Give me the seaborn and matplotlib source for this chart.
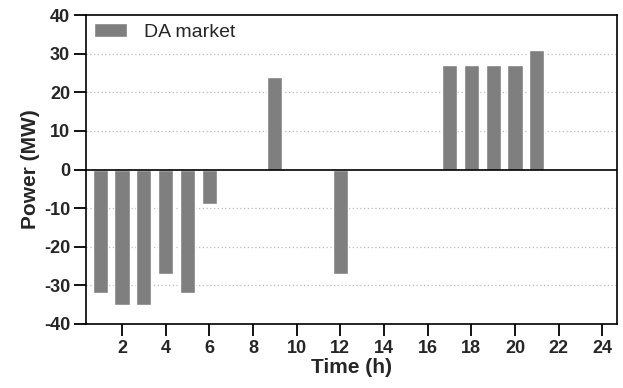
import numpy as np
import pandas as pd
import matplotlib.pyplot as plt
import seaborn as sns

sns.set_style("white")
plt.rcParams["font.family"] = ["Liberation Sans", "DejaVu Sans"]
plt.rcParams["axes.unicode_minus"] = False

hours = list(range(1, 25))
power = [-32, -35, -35, -27, -32, -9, 0, 0, 24, 0, 0, -27,
         0, 0, 0, 0, 27, 27, 27, 27, 31, 0, 0, 0]
df = pd.DataFrame({"hour": hours, "power": power})

fig = plt.figure(figsize=(6.23, 3.88), dpi=100)
ax = fig.add_axes([0.138, 0.165, 0.852, 0.796])

sns.barplot(data=df, x="hour", y="power", native_scale=True, width=0.7,
            color="#7f7f7f", saturation=1, label="DA market", ax=ax, zorder=3)

ax.set_xlim(0.35, 24.66)
ax.set_ylim(-40, 40)
ax.set_xticks(range(2, 25, 2))
ax.set_yticks(range(-40, 41, 10))
ax.axhline(0, color="black", lw=1.2, zorder=4)
for y in [-30, -20, -10, 10, 20, 30]:
    ax.axhline(y, color="#bbbbbb", lw=0.9, ls=(0, (1, 2)), zorder=1)

for s in ax.spines.values():
    s.set_color("black")
    s.set_linewidth(1.2)
ax.tick_params(axis="both", direction="out", length=8.5, width=1.3,
               labelsize=13, color="black", bottom=True, left=True, pad=3)
for lbl in ax.get_xticklabels() + ax.get_yticklabels():
    lbl.set_fontweight("bold")

ax.set_xlabel("Time (h)", fontsize=15, fontweight="bold", labelpad=1)
ax.set_ylabel("Power (MW)", fontsize=15, fontweight="bold", labelpad=3)
ax.legend(loc="upper left", frameon=False, fontsize=14, handlelength=1.7,
          handleheight=0.7, handletextpad=0.9, borderaxespad=0.0)

fig.savefig("out.png", dpi=100)
